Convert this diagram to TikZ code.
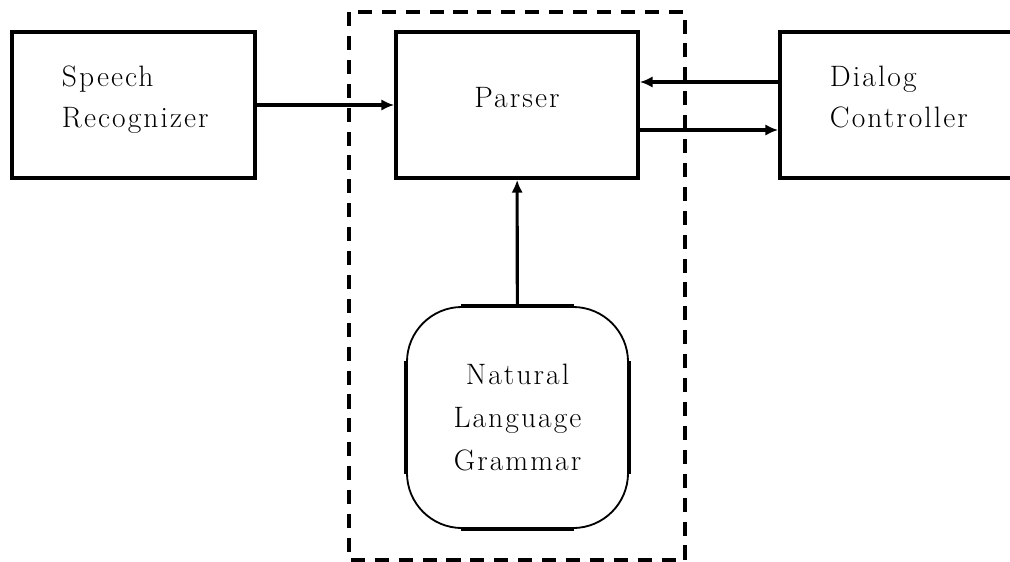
\documentclass[tikz,border=0pt]{standalone}
\usepackage{fontspec}
\setmainfont{Latin Modern Roman}[LetterSpace=7]
\usetikzlibrary{arrows.meta}
\tikzset{
  box/.style={draw, line width=2.6pt, minimum width=6.075cm, minimum height=3.65cm,
    font=\fontsize{21}{29}\selectfont},
  leftbox/.style={box, inner xsep=1.25cm, text width=3.575cm, align=left, text depth=1.45cm},
  link/.style={line width=2.2pt, -{Latex[length=9pt,width=8pt]}},
}
\begin{document}
\begin{tikzpicture}[x=0.025cm, y=-0.025cm]
      \useasboundingbox (0,0) rectangle (1010,561);
      \draw[dashed, line width=2.6pt, dash pattern=on 10pt off 7pt] (349,12) rectangle (685,560);
      \draw
        (133.5,105) node[leftbox] (speech){Speech\\Recognizer}
        (517,105) node[box, minimum width=6.05cm, text depth=0.4cm] (parser){Parser}
        (901.5,105) node[leftbox] (dialog){Dialog\\Controller}
        (517.5,417.5) node[draw, line width=1.3pt, rounded corners=1.375cm,
          minimum width=5.525cm, minimum height=5.525cm, align=center,
          font=\fontsize{21}{30.5}\selectfont] (grammar){Natural\\Language\\Grammar};
      % straight parts of the oval are heavier
      \begin{scope}[line width=2.6pt]
        \draw ([xshift=1.375cm]grammar.north west) -- ([xshift=-1.375cm]grammar.north east);
        \draw ([xshift=1.375cm]grammar.south west) -- ([xshift=-1.375cm]grammar.south east);
        \draw ([yshift=-1.375cm]grammar.north west) -- ([yshift=1.375cm]grammar.south west);
        \draw ([yshift=-1.375cm]grammar.north east) -- ([yshift=1.375cm]grammar.south east);
      \end{scope}
      \begin{scope}[link]
        \draw (speech) to (parser);
        \draw ([yshift=0.575cm]dialog.west) to ([yshift=0.575cm]parser.east);
        \draw ([yshift=-0.625cm]parser.east) to ([yshift=-0.625cm]dialog.west);
        \draw (grammar) to (parser);
      \end{scope}
    \end{tikzpicture}
\end{document}
